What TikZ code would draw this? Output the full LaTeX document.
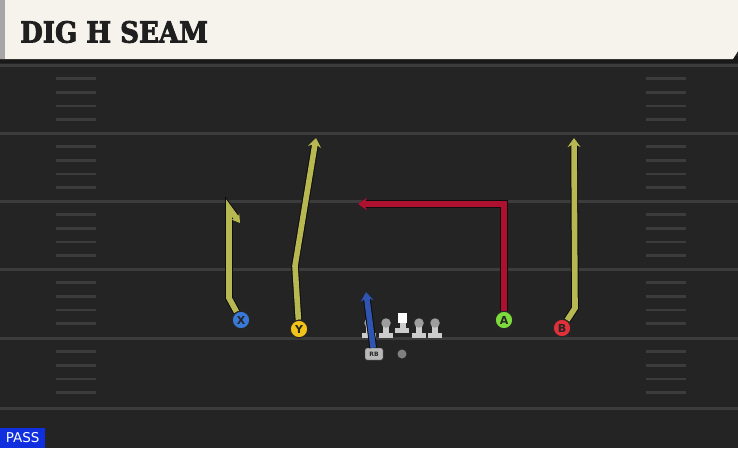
\documentclass[tikz,border=0pt]{standalone}
\usepackage{fontspec}
\setmainfont{DejaVu Sans}
\newfontfamily\titlefont[BoldFeatures={FakeBold=3}]{DejaVu Serif}
\usetikzlibrary{arrows.meta}
\definecolor{field}{HTML}{242424}
\definecolor{cream}{HTML}{F5F3EC}
\definecolor{yardc}{HTML}{3C3C3C}
\definecolor{routey}{HTML}{B8B852}
\definecolor{router}{HTML}{AE1030}
\definecolor{routeb}{HTML}{2F55B0}
\definecolor{xblue}{HTML}{3A78D8}
\definecolor{yyel}{HTML}{F2C318}
\definecolor{agreen}{HTML}{7DDC3C}
\definecolor{bred}{HTML}{E0303A}
\definecolor{linec}{HTML}{CCCCCC}
\definecolor{passblue}{HTML}{1030E0}
\tikzset{
  yardline/.style={draw=yardc, line width=3pt},
  hashmark/.style={draw=yardc, line width=2.6pt},
  player/.style={circle, draw=black!85, line width=1.1pt, inner sep=0pt, minimum size=17.5pt, font=\bfseries\fontsize{11}{11}\selectfont, text=black!85},
  route/.style={line width=5.6pt, line join=miter, preaction={draw=black!95, line width=7.6pt}},
  routetip/.style={-{Stealth[length=9pt,width=13pt,inset=3pt]}},
  smalltip/.style={-{Stealth[length=8pt,width=10pt,inset=2.5pt]}},
  pics/lineman/.style={code={
    \fill[linec] (-7,13) rectangle (7,18);
    \fill[linec] (-3,3) rectangle (3,13);
    \node[circle, fill=black!38, inner sep=0pt, minimum size=9.5pt] (-head) at (0,3) {};
  }}
}
\begin{document}
\begin{tikzpicture}[x=1pt,y=-1pt]
\useasboundingbox (0,0) rectangle (738,448);
\fill[field] (0,0) rectangle (738,448);
% field lines
\foreach \y in {65,133,201,269,338,408} \draw[yardline] (0,\y) -- (738,\y);
\foreach \s in {65,133,201,269,338} {
  \foreach \k in {1,2,3,4} {
    \draw[hashmark] (56,\s+\k*13.6) -- (96,\s+\k*13.6);
    \draw[hashmark] (646,\s+\k*13.6) -- (686,\s+\k*13.6);
  }
}
% header
\fill[black!90] (0,56) rectangle (738,63);
\fill[cream] (0,0) -- (738,0) -- (738,51) -- (733,59) -- (0,59) -- cycle;
\fill[black!35] (0,0) rectangle (5,59);
\node[anchor=west, inner sep=0pt, text=black!88] (title) at (20,32) {\scalebox{0.9}[1]{\titlefont\bfseries\fontsize{29}{29}\selectfont DIG H SEAM}};
% pass label
\node[anchor=south west, fill=passblue, text=white, inner sep=0pt, minimum width=45pt, minimum height=20pt, font=\fontsize{13.5}{13.5}\selectfont] (pass) at (0,448) {PASS};
% line
\pic (L1) at (369,320) {lineman};
\pic (L2) at (386,320) {lineman};
\pic (L4) at (419,320) {lineman};
\pic (L5) at (435,320) {lineman};
\fill[linec] (395,328) rectangle (409,333);
\fill[linec] (399.5,320) rectangle (405.5,328);
\node[fill=white, inner sep=0pt, minimum width=9pt, minimum height=10pt] (C) at (402,318) {};
\node[circle, fill=black!50, inner sep=0pt, minimum size=9pt] (QB) at (402,354) {};
% players
\node[player, fill=xblue] (X) at (241,320) {X};
\node[player, fill=yyel] (Y) at (299,329) {Y};
\node[player, fill=agreen] (A) at (504,320) {A};
\node[player, fill=bred] (B) at (562,328) {B};
% route points
\coordinate (x1) at (229,298);
\coordinate (x2) at (229,208);
\coordinate (x3) at (240,223);
\coordinate (y1) at (295,266);
\coordinate (y2) at (316,138);
\coordinate (a1) at (504,204);
\coordinate (a2) at (358,204);
\coordinate (b1) at (575,308);
\coordinate (b2) at (574,138);
\coordinate (r1) at (366,292);
% routes
\draw[route, routey, smalltip] (X) -- (x1) -- (x2) -- (x3);
\draw[route, routey, routetip] (Y) -- (y1) -- (y2);
\draw[route, router, routetip] (A) -- (a1) -- (a2);
\draw[route, routey, routetip] (B) -- (b1) -- (b2);
\node[draw=black!80, fill=black!28, rounded corners=2pt, inner sep=0pt, minimum width=18pt, minimum height=12pt, font=\bfseries\fontsize{6}{6}\selectfont, text=black!85] (RB) at (374,354) {RB};
\draw[route, routeb, routetip] (RB) -- (r1);
% redraw players on top
\node[player, fill=xblue] at (X) {X};
\node[player, fill=yyel] at (Y) {Y};
\node[player, fill=agreen] at (A) {A};
\node[player, fill=bred] at (B) {B};
\end{tikzpicture}
\end{document}
